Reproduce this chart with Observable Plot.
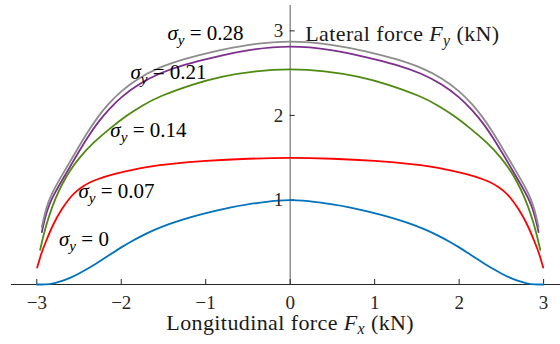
<!DOCTYPE html>
<html><head><meta charset="utf-8">
<script src="https://cdn.jsdelivr.net/npm/d3@7"></script>
<script src="https://cdn.jsdelivr.net/npm/@observablehq/plot@0.6"></script>
<style>
html,body{margin:0;padding:0;background:#fff;overflow:hidden}
svg{display:block}
svg text, svg tspan{font-family:"Liberation Serif","Times New Roman",serif !important}
</style>
</head><body><div id="chart"></div>
<script>
// ---- data ----
const xTicks = [-3, -2, -1, 0, 1, 2, 3];
const yTicks = [1, 2, 3];
const sigmas = [0, 0.07, 0.14, 0.21, 0.28];
const colors = ["#0072BD", "#FF0000", "#4E8A10", "#7E2F8E", "#8C8C8C"];
const xTitle = "Longitudinal force F_x (kN)";
const yTitle = "Lateral force F_y (kN)";

// sigma_y = 0
const fx0 = [-3.0,-2.9,-2.8,-2.7,-2.6,-2.5,-2.4,-2.3,-2.2,-2.1,-2.0,-1.9,-1.75,-1.6,-1.45,-1.3,-1.1,-0.9,-0.7,-0.5,-0.3,-0.15,0,0.15,0.3,0.5,0.7,0.9,1.1,1.3,1.45,1.6,1.75,1.9,2.0,2.1,2.2,2.3,2.4,2.5,2.6,2.7,2.8,2.9,3.0];
const fy0 = [0,0,0.012,0.04,0.08,0.13,0.185,0.245,0.31,0.375,0.44,0.50,0.58,0.65,0.71,0.76,0.82,0.87,0.915,0.95,0.975,0.993,1.0,0.993,0.975,0.95,0.915,0.87,0.82,0.76,0.71,0.65,0.58,0.50,0.44,0.375,0.31,0.245,0.185,0.13,0.08,0.04,0.012,0,0];
// sigma_y = 0.07
const fx1 = [-2.995,-2.95,-2.9,-2.8,-2.7,-2.6,-2.52,-2.45,-2.38,-2.3,-2.1,-1.75,-1.5,-1.0,-0.5,0,0.5,1.0,1.5,1.75,2.1,2.3,2.38,2.45,2.52,2.6,2.7,2.8,2.9,2.95,2.995];
const fy1 = [0.20,0.36,0.49,0.73,0.90,1.04,1.115,1.165,1.205,1.24,1.305,1.385,1.42,1.465,1.49,1.50,1.49,1.465,1.42,1.385,1.305,1.24,1.205,1.165,1.115,1.04,0.90,0.73,0.49,0.36,0.20];
// sigma_y = 0.14
const fx2 = [-2.96,-2.92,-2.86,-2.78,-2.69,-2.6,-2.49,-2.33,-2.13,-1.935,-1.75,-1.54,-1.15,-0.83,-0.4,0,0.4,0.83,1.15,1.54,1.75,1.935,2.13,2.33,2.49,2.6,2.69,2.78,2.86,2.92,2.96];
const fy2 = [0.41,0.59,0.80,1.02,1.21,1.36,1.51,1.68,1.85,2.0,2.12,2.23,2.37,2.46,2.53,2.55,2.53,2.46,2.37,2.23,2.12,2.0,1.85,1.68,1.51,1.36,1.21,1.02,0.80,0.59,0.41];
// sigma_y = 0.21
const fx3 = [-2.94,-2.91,-2.87,-2.82,-2.75,-2.65,-2.52,-2.4,-2.28,-2.15,-2.0,-1.8,-1.55,-1.25,-0.9,-0.5,0,0.5,0.9,1.25,1.55,1.8,2.0,2.15,2.28,2.4,2.52,2.65,2.75,2.82,2.87,2.91,2.94];
const fy3 = [0.62,0.76,0.90,1.02,1.15,1.32,1.54,1.74,1.915,2.07,2.22,2.37,2.50,2.605,2.69,2.78,2.83,2.78,2.69,2.605,2.50,2.37,2.22,2.07,1.915,1.74,1.54,1.32,1.15,1.02,0.90,0.76,0.62];
// sigma_y = 0.28
const fx4 = [-2.94,-2.91,-2.87,-2.82,-2.75,-2.65,-2.52,-2.4,-2.28,-2.15,-2.0,-1.8,-1.55,-1.25,-0.9,-0.5,0,0.5,0.9,1.25,1.55,1.8,2.0,2.15,2.28,2.4,2.52,2.65,2.75,2.82,2.87,2.91,2.94];
const fy4 = [0.68,0.82,0.96,1.08,1.21,1.38,1.60,1.80,1.98,2.14,2.29,2.44,2.57,2.67,2.76,2.84,2.89,2.84,2.76,2.67,2.57,2.44,2.29,2.14,1.98,1.80,1.60,1.38,1.21,1.08,0.96,0.82,0.68];

// annotation anchors (data units: left edge, vertical centre)
const labelX = [-2.737, -2.507, -2.129, -1.892, -1.454];
const labelY = [0.53, 1.10, 1.82, 2.51, 2.97];

// ---- build ----
const xs = [fx0, fx1, fx2, fx3, fx4];
const ys = [fy0, fy1, fy2, fy3, fy4];
const rows = xs.flatMap((arr, i) => arr.map((x, j) => ({sigma: sigmas[i], x, y: ys[i][j]})));
const tickLen = 5 / 84.5;
const fmt = d => d < 0 ? "\u2212" + Math.abs(d) : String(d);
const FONT = "Liberation Serif";

const plot = Plot.plot({
  width: 560, height: 344,
  marginLeft: 10.95, marginRight: 0, marginTop: 5, marginBottom: 60,
  x: {domain: [-3.3, 3.2], axis: null},
  y: {domain: [0, 3.3], axis: null},
  color: {type: "ordinal", domain: sigmas, range: colors},
  style: {fontFamily: FONT, color: "#262626", background: "#fff", overflow: "visible"},
  marks: [
    Plot.ruleX([0], {stroke: "#808080", strokeWidth: 1.3}),
    Plot.ruleY([0], {stroke: "#262626", strokeWidth: 1}),
    Plot.ruleX(xTicks, {y1: 0, y2: tickLen, stroke: "#262626", strokeWidth: 1}),
    Plot.ruleY(yTicks, {x1: 0, x2: tickLen, stroke: "#262626", strokeWidth: 1}),
    Plot.line(rows, {x: "x", y: "y", z: "sigma", stroke: "sigma", strokeWidth: 1.8, curve: "basis"}),
    Plot.text(xTicks, {x: d => d, y: 0, dy: 18, text: fmt, fontSize: 19, fontFamily: FONT, fill: "#262626"}),
    Plot.text(yTicks, {x: 0, y: d => d, dx: -7, text: d => String(d), textAnchor: "end", fontSize: 19, fontFamily: FONT, fill: "#262626"}),
    Plot.text(sigmas, {x: (d, i) => labelX[i], y: (d, i) => labelY[i], text: d => `σ_y = ${d}`, textAnchor: "start", fontSize: 21, fontFamily: FONT, fill: "#000"}),
    Plot.text([xTitle], {x: 0, frameAnchor: "bottom", dy: 45, text: d => d, fontSize: 22, fontFamily: FONT, fill: "#1a1a1a"}),
    Plot.text([yTitle], {x: 0, frameAnchor: "top", dx: 15, dy: 20, text: d => d, textAnchor: "start", fontSize: 22, fontFamily: FONT, fill: "#1a1a1a"})
  ]
});
document.getElementById("chart").appendChild(plot);

// turn "a_b" into italic base + italic subscript
const NS = "http://www.w3.org/2000/svg";
d3.select(plot).selectAll("text").each(function () {
  const s = this.textContent;
  const m = s.match(/^(.*?)(\S)_(\S)(.*)$/);
  if (!m) return;
  const [, pre, base, sub, post] = m;
  const fs = parseFloat(getComputedStyle(this).fontSize) || 20;
  const shift = fs * 0.22;
  if (/force/.test(s)) this.setAttribute("letter-spacing", "0.4");
  this.textContent = "";
  const add = (txt, attrs) => {
    const t = document.createElementNS(NS, "tspan");
    t.textContent = txt;
    for (const k in attrs) t.setAttribute(k, attrs[k]);
    this.appendChild(t);
  };
  if (pre) add(pre, {});
  add(base, {"font-style": "italic"});
  add(sub, {"font-style": "italic", "font-size": (fs * 0.72) + "px", dy: shift});
  add(post, {dy: -shift});
});
</script>
</body></html>
